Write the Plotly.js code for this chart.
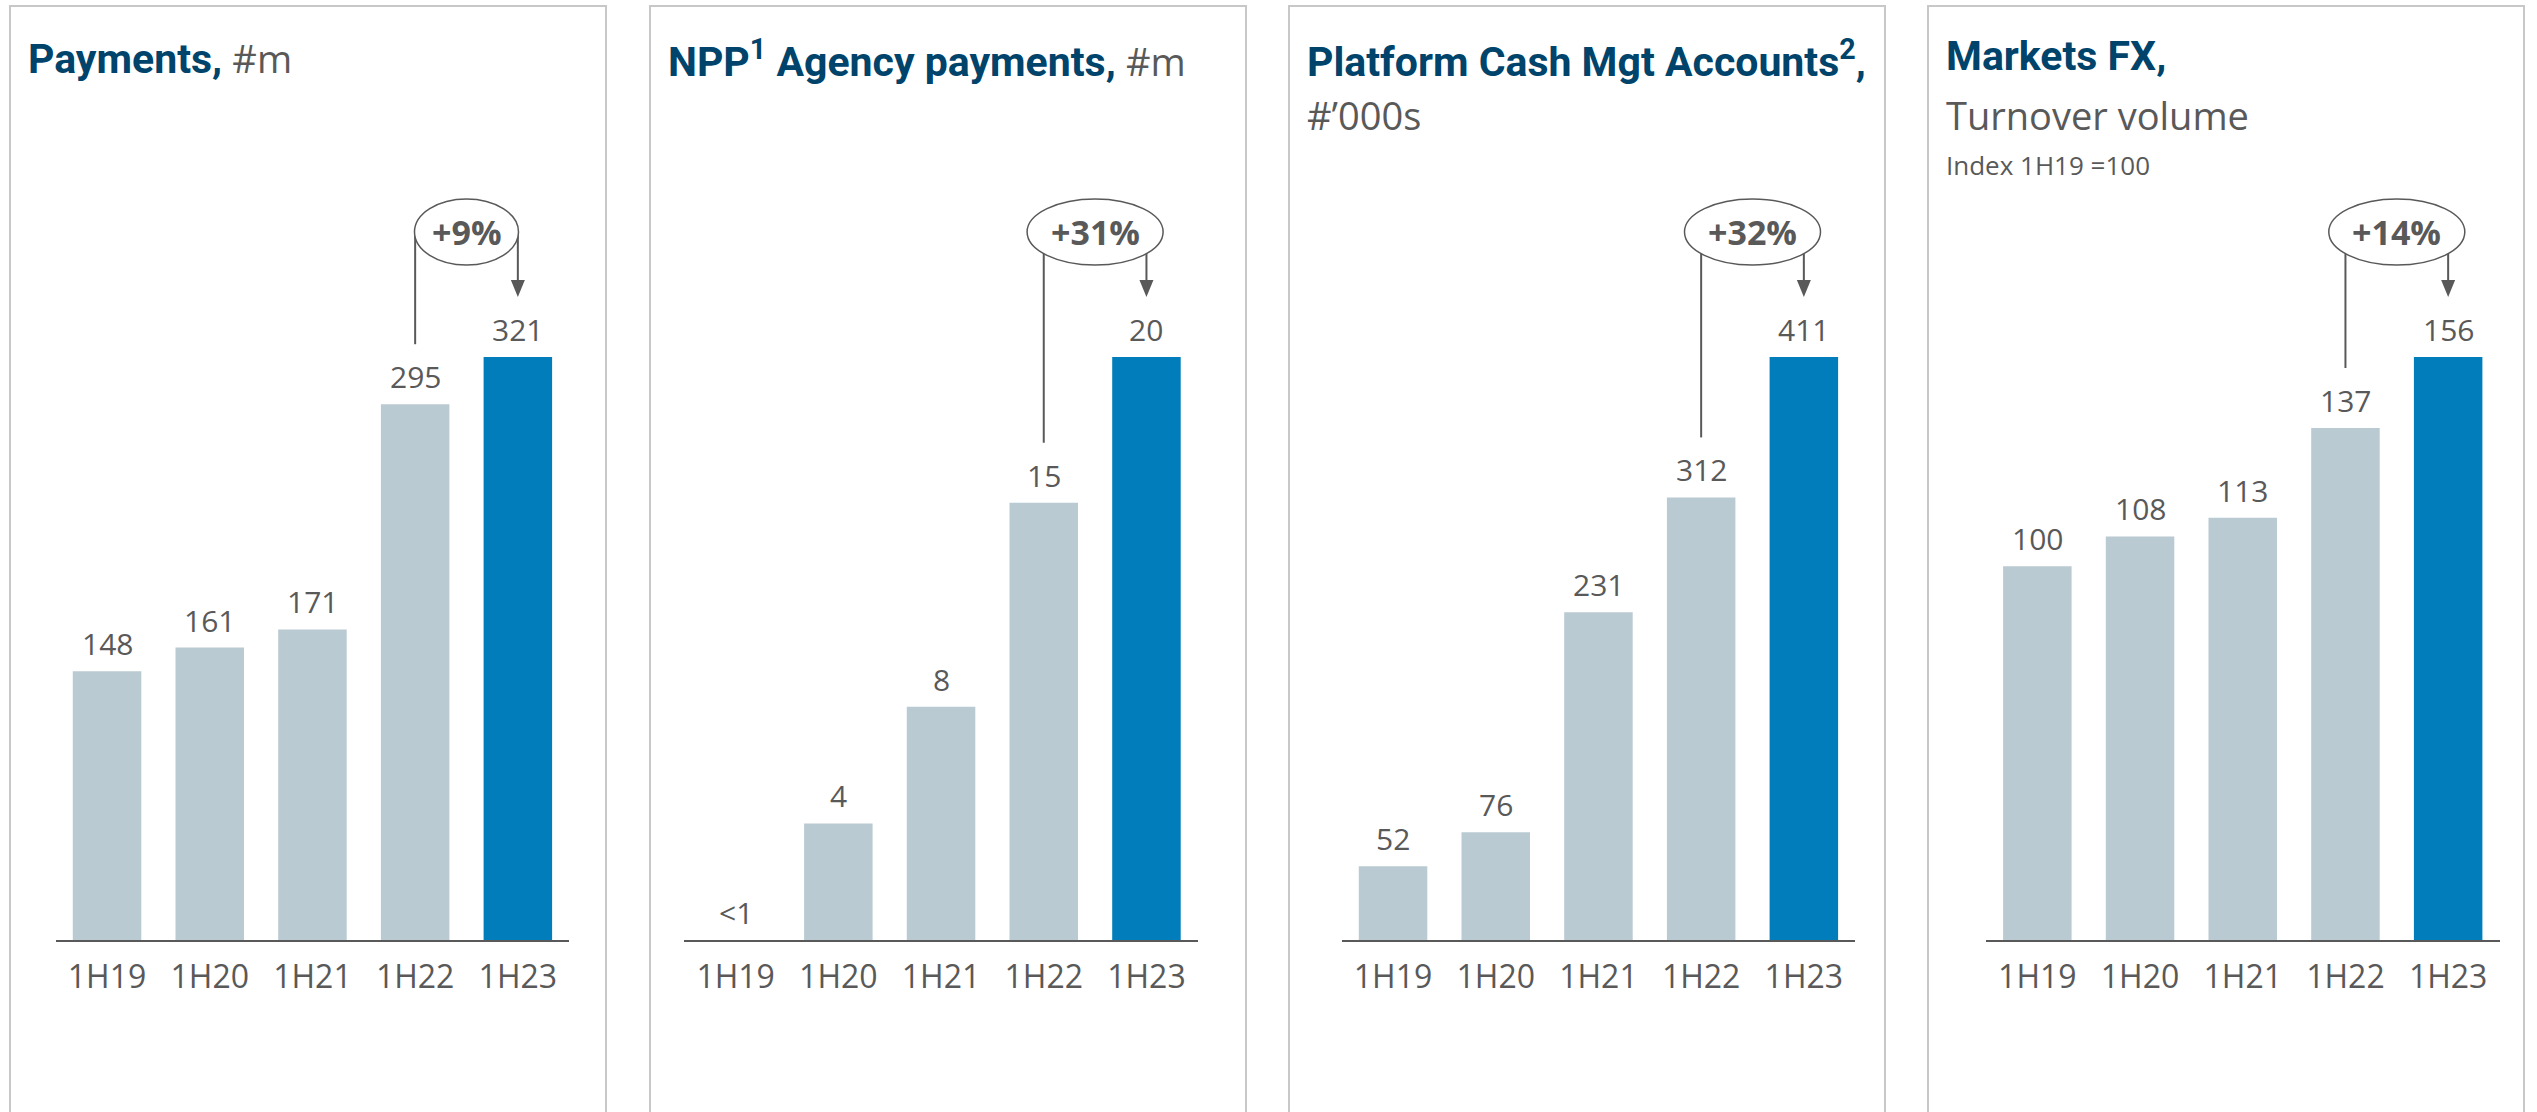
<!DOCTYPE html>
<html><head><meta charset="utf-8">
<script src="https://cdn.plot.ly/plotly-3.0.1.min.js"></script>
<style>html,body{margin:0;padding:0;background:#fff;}#chart{width:2537px;height:1112px;}</style>
</head><body><div id="chart"></div>
<script>
// ---- data ----
const categories = ['1H19', '1H20', '1H21', '1H22', '1H23'];
const paymentsValues = [148, 161, 171, 295, 321];
const paymentsLabels = ['148', '161', '171', '295', '321'];
const nppValues = [0, 4, 8, 15, 20];
const nppLabels = ['<1', '4', '8', '15', '20'];
const cashMgtValues = [52, 76, 231, 312, 411];
const cashMgtLabels = ['52', '76', '231', '312', '411'];
const marketsFxValues = [100, 108, 113, 137, 156];
const marketsFxLabels = ['100', '108', '113', '137', '156'];
const growthLabels = ['+9%', '+31%', '+32%', '+14%'];
const titleMain = ['Payments,', 'NPP<sup>1</sup> Agency payments,', 'Platform Cash Mgt Accounts<sup>2</sup>,', 'Markets FX,'];
const titleUnitInline = ['#m', '#m', '', ''];
const titleLine2 = ['', '', '#\u2019000s', 'Turnover volume'];
const titleLine3 = ['', '', '', 'Index 1H19 =100'];

// ---- style / layout ----
const W = 2537, H = 1112;
const px = v => v / W, py = v => 1 - v / H;
const BASE_PY = 940, TOP_PY = 150, MAXBAR_PX = 583;
const GREY = '#595959', BLUE_T = '#00436b', BAR_GREY = '#b9cad2', BAR_BLUE = '#007dba';
const TITLE_FONT = "Roboto, 'Open Sans', sans-serif";
const BODY_FONT = "'Open Sans', 'Noto Sans', sans-serif";

const panels = [
  {values: paymentsValues, labels: paymentsLabels, frame: [10, 606], dom: [55.7, 569.2], rx: 52},
  {values: nppValues, labels: nppLabels, frame: [650, 1246], dom: [684.3, 1197.8], rx: 68},
  {values: cashMgtValues, labels: cashMgtLabels, frame: [1289, 1885], dom: [1341.7, 1855.2], rx: 68},
  {values: marketsFxValues, labels: marketsFxLabels, frame: [1928, 2524], dom: [1986, 2499.5], rx: 68},
];

const data = [], shapes = [], annotations = [];
const layout = {
  width: W, height: H, margin: {l: 0, r: 0, t: 0, b: 0},
  paper_bgcolor: '#fff', plot_bgcolor: 'rgba(0,0,0,0)', showlegend: false,
  bargap: 0.333, font: {family: BODY_FONT, color: GREY},
};

panels.forEach((p, i) => {
  const suf = i === 0 ? '' : String(i + 1);
  const xr = 'x' + suf, yr = 'y' + suf;
  const max = Math.max(...p.values);
  const unit = max / MAXBAR_PX;          // data units per pixel
  const yE = max + 125 * unit;           // ellipse centre level
  const i22 = 3, i23 = 4;

  data.push({
    type: 'bar', x: categories, y: p.values, xaxis: xr, yaxis: yr,
    marker: {color: categories.map((c, k) => k === categories.length - 1 ? BAR_BLUE : BAR_GREY), line: {width: 0}},
    hoverinfo: 'none', cliponaxis: false,
  });

  layout['xaxis' + suf] = {
    domain: [px(p.dom[0]), px(p.dom[1])], anchor: yr, type: 'category',
    range: [-0.5, categories.length - 0.5], showline: true, linecolor: GREY, linewidth: 2,
    showgrid: false, zeroline: false, ticks: '', fixedrange: true, ticklabelstandoff: 8,
    tickfont: {family: BODY_FONT, size: 32, color: GREY},
  };
  layout['yaxis' + suf] = {
    domain: [py(BASE_PY), py(TOP_PY)], anchor: xr,
    range: [0, (BASE_PY - TOP_PY) * unit], visible: false, fixedrange: true,
  };

  // panel frame (left, top, right)
  const [f0, f1] = p.frame;
  shapes.push({type: 'path', xref: 'paper', yref: 'paper', layer: 'below',
    path: `M${px(f0)},${py(1130)} L${px(f0)},${py(6)} L${px(f1)},${py(6)} L${px(f1)},${py(1130)}`,
    line: {color: '#c8c8c8', width: 2}});

  // connector lines
  shapes.push({type: 'line', xref: xr, yref: yr, x0: i22, x1: i22,
    y0: p.values[i22] + 60 * unit, y1: yE, line: {color: GREY, width: 2}});
  shapes.push({type: 'line', xref: xr, yref: yr, x0: i23, x1: i23,
    y0: p.values[i23] + 76 * unit, y1: yE, line: {color: GREY, width: 2}});
  shapes.push({type: 'path', xref: xr, yref: yr, xsizemode: 'pixel', ysizemode: 'pixel',
    xanchor: i23, yanchor: p.values[i23], path: 'M-7,77 L7,77 L0,60 Z',
    fillcolor: GREY, line: {width: 0}});
  // ellipse
  shapes.push({type: 'circle', xref: xr, yref: yr, xsizemode: 'pixel', ysizemode: 'pixel',
    xanchor: 3.5, yanchor: yE, x0: -p.rx, x1: p.rx, y0: -33, y1: 33,
    fillcolor: '#ffffff', line: {color: GREY, width: 1.5}});
  annotations.push({xref: xr, yref: yr, x: 3.5, y: yE, text: '<b>' + growthLabels[i] + '</b>',
    showarrow: false, xanchor: 'center', yanchor: 'middle',
    font: {family: BODY_FONT, size: 34, color: GREY}});

  // value labels
  p.values.forEach((v, k) => {
    annotations.push({xref: xr, yref: yr, x: categories[k], y: v, text: p.labels[k],
      showarrow: false, xanchor: 'center', yanchor: 'bottom', yshift: 5,
      font: {family: BODY_FONT, size: 30, color: GREY}});
  });

  // titles
  const tx = px(f0 + 16);
  let t1 = '<b>' + titleMain[i] + '</b>';
  if (titleUnitInline[i]) t1 += ` <span style="font-family:'Open Sans';font-size:38px;color:${GREY}">${titleUnitInline[i]}</span>`;
  annotations.push({xref: 'paper', yref: 'paper', x: tx, y: py(30), xanchor: 'left', yanchor: 'top',
    text: t1, showarrow: false, align: 'left', font: {family: TITLE_FONT, size: 41, color: BLUE_T}});
  if (titleLine2[i]) annotations.push({xref: 'paper', yref: 'paper', x: tx, y: py(87), xanchor: 'left', yanchor: 'top',
    text: titleLine2[i], showarrow: false, align: 'left', font: {family: BODY_FONT, size: 38, color: GREY}});
  if (titleLine3[i]) annotations.push({xref: 'paper', yref: 'paper', x: tx, y: py(145), xanchor: 'left', yanchor: 'top',
    text: titleLine3[i], showarrow: false, align: 'left', font: {family: BODY_FONT, size: 26, color: GREY}});
});

layout.shapes = shapes;
layout.annotations = annotations;
Plotly.newPlot('chart', data, layout, {staticPlot: true, displayModeBar: false});
</script>
</body></html>
